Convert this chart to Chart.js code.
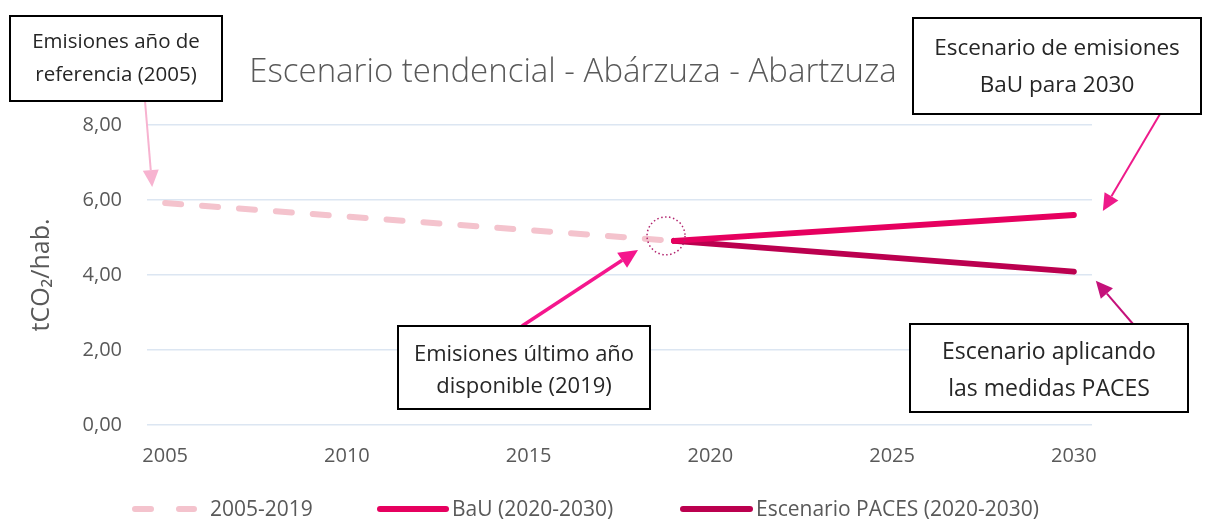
<!DOCTYPE html>
<html><head><meta charset="utf-8">
<script src="https://cdn.jsdelivr.net/npm/chart.js@4.4.0/dist/chart.umd.min.js"></script>
<style>html,body{margin:0;padding:0;background:#fff;}#wrap{width:1206px;height:520px;}</style>
</head><body><div id="wrap"><canvas id="c" width="1206" height="520"></canvas></div>
<script>
// ---- data ----
const titleText = 'Escenario tendencial - Abárzuza - Abartzuza';
const yAxisTitle = 'tCO₂/hab.';
const xTickValues = [2005, 2010, 2015, 2020, 2025, 2030];
const yTickValues = [0, 2, 4, 6, 8];
const seriesLabels = ['2005-2019', 'BaU (2020-2030)', 'Escenario PACES (2020-2030)'];
const historicYears = [2005, 2019];
const historicValues = [5.92, 4.91];
const bauYears = [2019, 2030];
const bauValues = [4.91, 5.60];
const pacesYears = [2019, 2030];
const pacesValues = [4.91, 4.09];
const calloutTexts = [
  ['Emisiones año de', 'referencia (2005)'],
  ['Escenario de emisiones', 'BaU para 2030'],
  ['Emisiones último año', 'disponible (2019)'],
  ['Escenario aplicando', 'las medidas PACES']
];

// ---- styles ----
const FONT = "'Open Sans', 'Noto Sans', sans-serif";
const colHist = '#F4C3CD', colBau = '#E6005F', colPaces = '#BB004F';
const toXY = (xs, ys) => xs.map((x, i) => ({x: x, y: ys[i]}));

const decor = {
  id: 'decor',
  afterDraw(chart) {
    const ctx = chart.ctx, xs = chart.scales.x, ys = chart.scales.y;
    const P = (x, y) => [xs.getPixelForValue(x), ys.getPixelForValue(y)];
    ctx.save();
    // title
    ctx.fillStyle = '#595959';
    ctx.font = "300 33px " + FONT;
    ctx.textAlign = 'center'; ctx.textBaseline = 'middle';
    ctx.fillText(titleText, 573, 73);

    // arrows
    function arrow(x1, y1, x2, y2, w, color, L, H) {
      const a = Math.atan2(y2 - y1, x2 - x1);
      const bx = x2 - L * Math.cos(a), by = y2 - L * Math.sin(a);
      ctx.strokeStyle = color; ctx.fillStyle = color; ctx.lineWidth = w; ctx.setLineDash([]);
      ctx.lineCap = 'butt';
      ctx.beginPath(); ctx.moveTo(x1, y1); ctx.lineTo(bx, by); ctx.stroke();
      ctx.beginPath();
      ctx.moveTo(x2, y2);
      ctx.lineTo(bx + H * Math.sin(a), by - H * Math.cos(a));
      ctx.lineTo(bx - H * Math.sin(a), by + H * Math.cos(a));
      ctx.closePath(); ctx.fill();
    }
    const p2005 = P(historicYears[0], historicValues[0]);
    const p2019 = P(historicYears[1], historicValues[1]);
    const pBau = P(bauYears[1], bauValues[1]);
    const pPac = P(pacesYears[1], pacesValues[1]);
    arrow(145, 101, p2005[0] - 13, p2005[1] - 16, 2, '#F7B3D0', 17, 8);
    arrow(1160, 114, pBau[0] + 29, pBau[1] - 4, 2, '#EE1A8A', 17, 8);
    arrow(522, 326, p2019[0] - 36, p2019[1] + 9, 3.5, '#F5168D', 19, 9);
    arrow(1133, 324, pPac[0] + 22, pPac[1] + 9, 2, '#C4117A', 17, 8);

    // dotted circle at last year of data
    ctx.strokeStyle = '#B2246E'; ctx.lineWidth = 1.5; ctx.setLineDash([1.5, 2.5]);
    ctx.beginPath(); ctx.arc(p2019[0] - 8, p2019[1] - 5, 19, 0, Math.PI * 2); ctx.stroke();
    ctx.setLineDash([]);

    // callout boxes
    const boxes = [
      {x: 10, y: 16, w: 212, h: 85, lines: calloutTexts[0], ly: [42, 75], fs: 20.5},
      {x: 913, y: 18, w: 288, h: 96, lines: calloutTexts[1], ly: [49, 86], fs: 22.5},
      {x: 398, y: 326, w: 252, h: 83, lines: calloutTexts[2], ly: [355, 387], fs: 22},
      {x: 910, y: 324, w: 278, h: 88, lines: calloutTexts[3], ly: [352, 389], fs: 23}
    ];
    boxes.forEach(b => {
      ctx.fillStyle = '#fff'; ctx.fillRect(b.x, b.y, b.w, b.h);
      ctx.strokeStyle = '#000'; ctx.lineWidth = 2; ctx.strokeRect(b.x, b.y, b.w, b.h);
      ctx.fillStyle = '#262626'; ctx.font = b.fs + "px " + FONT;
      ctx.textAlign = 'center'; ctx.textBaseline = 'middle';
      b.lines.forEach((t, i) => ctx.fillText(t, b.x + b.w / 2, b.ly[i]));
    });

    // legend
    const items = [
      {x1: 135, x2: 194, tx: 210, ds: chart.data.datasets[0]},
      {x1: 380, x2: 446, tx: 452, ds: chart.data.datasets[1]},
      {x1: 683, x2: 750, tx: 756, ds: chart.data.datasets[2]}
    ];
    const ly = 509;
    items.forEach(it => {
      ctx.strokeStyle = it.ds.borderColor; ctx.lineWidth = 6; ctx.lineCap = 'round';
      ctx.setLineDash(it.ds.borderDash ? [16, 28] : []);
      ctx.beginPath(); ctx.moveTo(it.x1, ly); ctx.lineTo(it.x2, ly); ctx.stroke();
      ctx.setLineDash([]);
      ctx.fillStyle = '#595959'; ctx.font = "21px " + FONT;
      ctx.textAlign = 'left'; ctx.textBaseline = 'middle';
      ctx.fillText(it.ds.label, it.tx, ly + 1);
    });
    ctx.restore();
  }
};

new Chart(document.getElementById('c'), {
  type: 'line',
  data: {
    datasets: [
      {label: seriesLabels[0], data: toXY(historicYears, historicValues), borderColor: colHist,
       borderWidth: 6, borderDash: [16, 21], borderCapStyle: 'round', pointRadius: 0, fill: false},
      {label: seriesLabels[1], data: toXY(bauYears, bauValues), borderColor: colBau,
       borderWidth: 6, borderCapStyle: 'round', pointRadius: 0, fill: false},
      {label: seriesLabels[2], data: toXY(pacesYears, pacesValues), borderColor: colPaces,
       borderWidth: 6, borderCapStyle: 'round', pointRadius: 0, fill: false}
    ]
  },
  options: {
    responsive: false, animation: false, devicePixelRatio: 1,
    layout: {padding: {top: 125, right: 114, left: 0, bottom: 0}},
    plugins: {legend: {display: false}, title: {display: false}, tooltip: {enabled: false}},
    scales: {
      x: {
        type: 'linear', min: 2004.5, max: 2030.5,
        afterBuildTicks: s => { s.ticks = xTickValues.map(v => ({value: v})); },
        afterFit: s => { s.height = 95; },
        grid: {display: false, drawTicks: false}, border: {display: false},
        ticks: {color: '#595959', font: {family: FONT, size: 20}, padding: 19, maxRotation: 0,
                callback: v => String(v)}
      },
      y: {
        min: 0, max: 8,
        afterBuildTicks: s => { s.ticks = yTickValues.map(v => ({value: v})); },
        afterFit: s => { s.width = 147; },
        grid: {color: '#DCE6F2', lineWidth: 1.5, drawTicks: false}, border: {display: false},
        ticks: {color: '#595959', font: {family: FONT, size: 20}, padding: 25,
                callback: v => v.toFixed(2).replace('.', ',')},
        title: {display: true, text: yAxisTitle, color: '#595959', font: {family: FONT, size: 25},
                padding: {top: 27, bottom: 0}}
      }
    }
  },
  plugins: [decor]
});
</script></body></html>
